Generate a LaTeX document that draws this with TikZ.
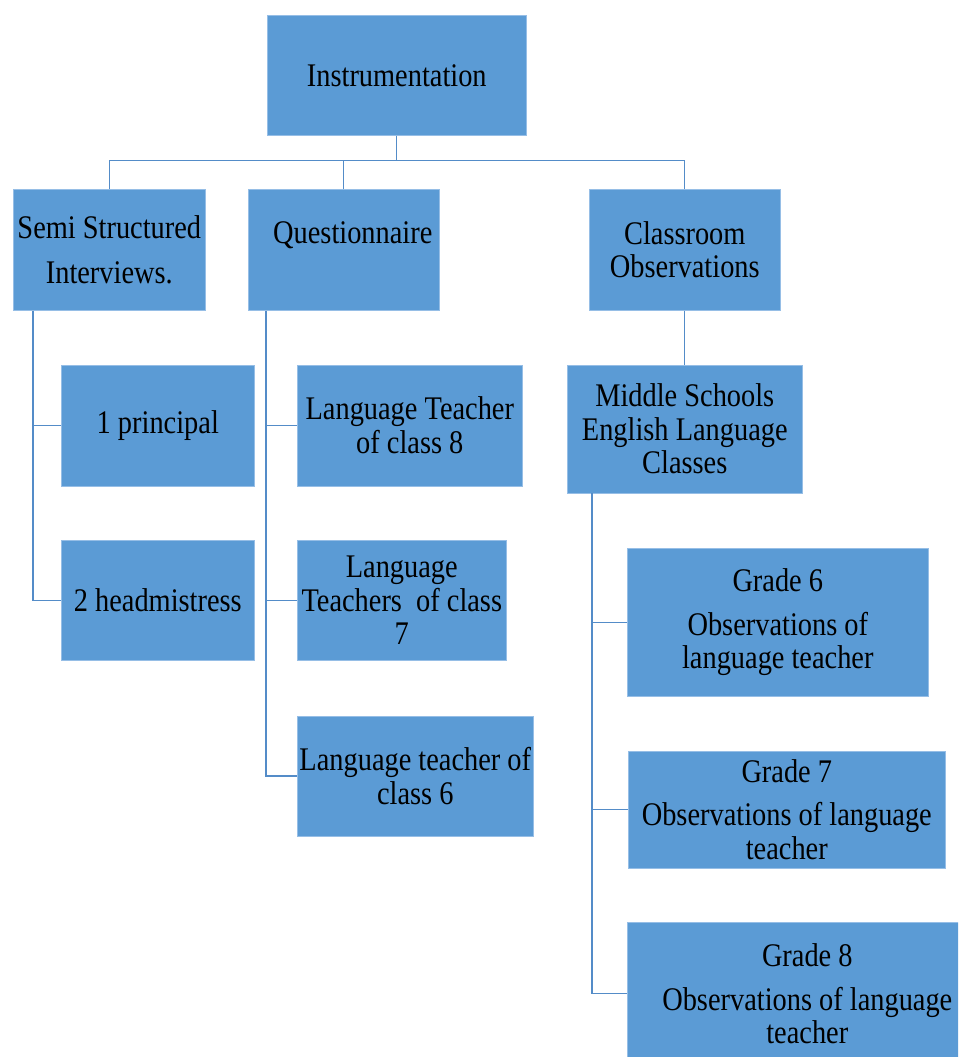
\documentclass[tikz,border=0pt]{standalone}
\usepackage{fontspec}
\usepackage{tikz}
\usetikzlibrary{positioning}
\newfontfamily\boxfont{Liberation Serif}[FakeStretch=0.86]
\definecolor{boxfill}{RGB}{91, 155, 213}
\definecolor{boxedge}{RGB}{150, 190, 230}
\definecolor{linkblue}{RGB}{84, 140, 200}
\tikzstyle{box} = [rectangle, draw=boxedge, line width=0.6pt, fill=boxfill, text=black, align=center, inner sep=0pt, font=\boxfont\fontsize{33}{33.5}\selectfont]
\tikzstyle{conn} = [draw=linkblue, line width=1.3pt]

\begin{document}
\begin{tikzpicture}[x=1pt, y=-1pt]

\useasboundingbox (0,0) rectangle (958,1057);
\clip (0,0) rectangle (958,1057);

% top =============================
\node[box, anchor=north west, minimum width=259pt, minimum height=120pt] (inst) at (267,15) {Instrumentation};

% methods
\node[box, anchor=north west, minimum width=192pt, minimum height=121pt] (semi) at (13,189) {Semi Structured\\[12pt]Interviews.};
\node[box, anchor=north west, minimum width=191pt, minimum height=121pt] (quest) at (248,189) {\hspace*{18pt}Questionnaire\\\mbox{}};
\node[box, anchor=north west, minimum width=191pt, minimum height=121pt] (class) at (589,189) {Classroom\\Observations};

% interviews
\node[box, below right=54pt and 48pt of semi.south west, minimum width=193pt, minimum height=121pt] (prin) {1 principal};
\node[box, below=54pt of prin, minimum width=193pt, minimum height=120pt] (head) {2 headmistress};

% questionnaire
\node[box, below right=54pt and 49pt of quest.south west, minimum width=225pt, minimum height=121pt] (lt8) {Language Teacher\\of class 8};
\node[box, below right=54pt and 0pt of lt8.south west, minimum width=209pt, minimum height=120pt] (lt7) {Language\\Teachers\ \ of class\\7};
\node[box, below right=55pt and 0pt of lt7.south west, minimum width=236pt, minimum height=120pt] (lt6) {Language teacher of\\class 6};

% observations
\node[box, below=54pt of class, minimum width=235pt, minimum height=128pt] (mid) {Middle Schools\\English Language\\Classes};
\node[box, below right=55pt and 60pt of mid.south west, minimum width=301pt, minimum height=148pt] (g6) {Grade 6\\[10pt]Observations of\\language teacher};
\node[box, below right=54pt and 1pt of g6.south west, minimum width=317pt, minimum height=117pt] (g7) {Grade 7\\[10pt]Observations of language\\teacher};
\node[box, below right=54pt and -1pt of g7.south west, minimum width=360pt, minimum height=142pt] (g8) {Grade 8\\[10pt]Observations of language\\teacher};

% edges
\coordinate[below=25pt of inst.south] (hub);
\path[conn] (inst) -- (hub);
\path[conn] (semi.north) |- (hub) -| (class.north);
\path[conn] (quest.north) -- (quest.north |- hub);

\coordinate[right=20pt of semi.south west] (semispine);
\path[conn] (semispine) |- (head.west);
\path[conn] (semispine |- prin.west) -- (prin.west);

\coordinate[right=18pt of quest.south west] (questspine);
\path[conn] (questspine) |- (lt6.west);
\path[conn] (questspine |- lt8.west) -- (lt8.west);
\path[conn] (questspine |- lt7.west) -- (lt7.west);

\path[conn] (class) -- (mid);

\coordinate[right=25pt of mid.south west] (midspine);
\path[conn] (midspine) |- (g8.west);
\path[conn] (midspine |- g6.west) -- (g6.west);
\path[conn] (midspine |- g7.west) -- (g7.west);

\end{tikzpicture}
\end{document}
